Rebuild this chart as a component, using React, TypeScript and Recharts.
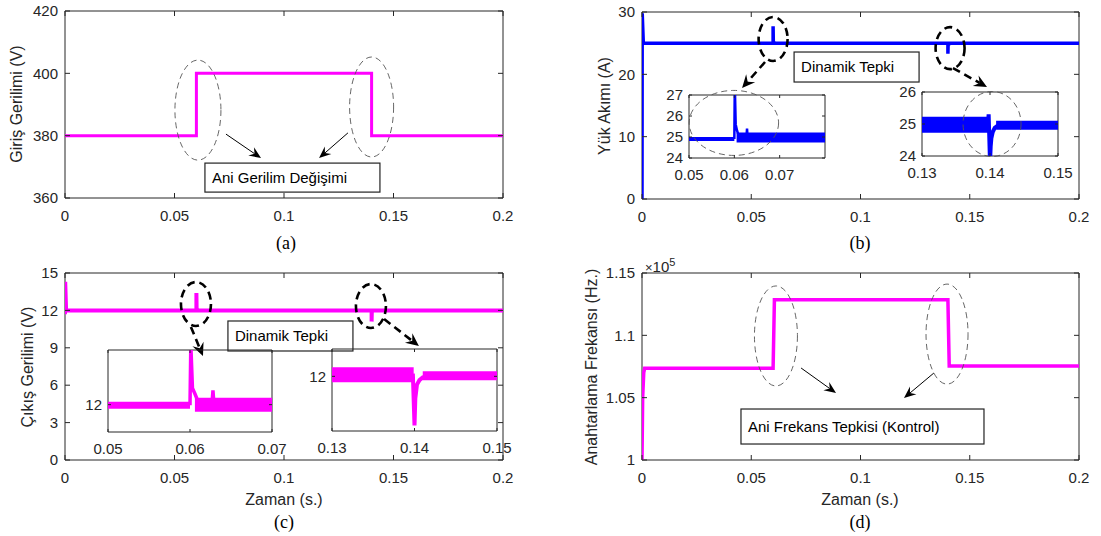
import React from "react";
import {
  LineChart,
  Line,
  XAxis,
  YAxis,
  ReferenceArea,
  ReferenceDot,
  ReferenceLine,
} from "recharts";

const FONT = '"Liberation Sans", Arial, Helvetica, sans-serif';
const SERIF = '"Liberation Serif", "Times New Roman", serif';
const AXIS = "#262626";
const MAGENTA = "#ff00ff";
const BLUE = "#0000ff";

// shared time ticks (s)
const mainTimeTicks = [0, 0.05, 0.1, 0.15, 0.2];

// (a) input voltage (V)
const timeA = [0, 0.06, 0.06, 0.14, 0.14, 0.2];
const vinA = [380, 380, 400, 400, 380, 380];
const ticksA = [360, 380, 400, 420];

// (b) load current (A)
const timeB = [0, 0.0001, 0.0006, 0.06, 0.06, 0.0601, 0.061, 0.14, 0.14, 0.1401, 0.141, 0.2];
const curB = [0, 29.8, 25, 25, 27.7, 25.2, 25, 25, 23.3, 24.7, 25, 25];
const ticksB = [0, 10, 20, 30];

// (b) inset 1: 0.05 - 0.08 s
const b1PreT = [0.05, 0.06];
const b1PreV = [24.9, 24.9];
const b1SpikeT = [0.06, 0.0601, 0.0603, 0.0606, 0.061, 0.0627, 0.0628, 0.0629];
const b1SpikeV = [24.9, 27.5, 25.6, 25.3, 25.05, 25.05, 25.4, 25.05];
const b1PostT = [0.0605, 0.08];
const b1PostV = [24.98, 24.98];
const b1TicksT = [0.05, 0.06, 0.07];
const b1TicksV = [24, 25, 26, 27];

// (b) inset 2: 0.13 - 0.15 s
const b2PreT = [0.13, 0.1399];
const b2PreV = [24.98, 24.98];
const b2DipT = [0.1397, 0.1398, 0.14, 0.1401, 0.1402, 0.1404, 0.1407, 0.141, 0.1415];
const b2DipV = [25.0, 25.3, 23.8, 24.3, 24.55, 24.75, 24.88, 24.93, 24.96];
const b2PostT = [0.1409, 0.15];
const b2PostV = [24.96, 24.96];
const b2TicksT = [0.13, 0.14, 0.15];
const b2TicksV = [24, 25, 26];

// (c) output voltage (V)
const timeC = [0, 0.0001, 0.0005, 0.06, 0.06, 0.0601, 0.061, 0.14, 0.14, 0.1401, 0.141, 0.2];
const voutC = [11.7, 14.3, 12, 12, 13.4, 12.1, 12, 12, 11.1, 11.9, 12, 12];
const ticksC = [0, 3, 6, 9, 12, 15];

// (c) inset 1: 0.05 - 0.07 s
const c1PreT = [0.05, 0.06];
const c1PreV = [11.99, 11.99];
const c1SpikeT = [0.06, 0.0601, 0.0603, 0.0606, 0.061, 0.0627, 0.0628, 0.0629];
const c1SpikeV = [11.99, 13.1, 12.3, 12.2, 12.05, 12.05, 12.26, 12.05];
const c1PostT = [0.0606, 0.07];
const c1PostV = [12.0, 12.0];
const c1TicksT = [0.05, 0.06, 0.07];

// (c) inset 2: 0.13 - 0.15 s
const c2PreT = [0.13, 0.1399];
const c2PreV = [12.03, 12.03];
const c2DipT = [0.1398, 0.14, 0.1401, 0.1403, 0.1406, 0.141, 0.1416];
const c2DipV = [12.05, 11.1, 11.6, 11.85, 11.93, 11.98, 12.0];
const c2PostT = [0.141, 0.15];
const c2PostV = [12.01, 12.01];
const c2TicksT = [0.13, 0.14, 0.15];
const insetTicks12 = [12];

// (d) switching frequency (x1e5 Hz)
const timeD = [0, 0.0003, 0.0008, 0.0012, 0.06, 0.0606, 0.14, 0.1406, 0.2];
const freqD = [1.0, 1.05, 1.07, 1.0735, 1.0735, 1.1285, 1.1285, 1.0755, 1.0755];
const ticksD = [1, 1.05, 1.1, 1.15];

type Box = { l: number; t: number; r: number; b: number };
type Series = { t: number[]; v: number[]; color: string; width: number };

const toRows = (t: number[], v: number[]) => t.map((x, i) => ({ t: x, v: v[i] }));
const fmt = (v: number) => String(Math.round(v * 10000) / 10000);

function ellipseAt(key: string, x: number, y: number, rx: number, ry: number, bold: boolean) {
  return (
    <ReferenceDot
      key={key}
      x={x}
      y={y}
      ifOverflow="visible"
      shape={(p: any) => (
        <ellipse
          cx={p.cx}
          cy={p.cy}
          rx={rx}
          ry={ry}
          fill="none"
          stroke={bold ? "#000" : "#555"}
          strokeWidth={bold ? 2.6 : 0.9}
          strokeDasharray={bold ? "8 5" : "6 4"}
        />
      )}
    />
  );
}

function arrowShape(bold: boolean) {
  return (p: any) => {
    const { x1, y1, x2, y2 } = p;
    const dx = x2 - x1;
    const dy = y2 - y1;
    const len = Math.hypot(dx, dy) || 1;
    const ux = dx / len;
    const uy = dy / len;
    const hl = bold ? 13 : 12;
    const hw = bold ? 6 : 5;
    const bx = x2 - ux * hl;
    const by = y2 - uy * hl;
    const nx = -uy;
    const ny = ux;
    const mx = x2 - ux * hl * 0.65;
    const my = y2 - uy * hl * 0.65;
    return (
      <g>
        <line
          x1={x1}
          y1={y1}
          x2={mx}
          y2={my}
          stroke="#000"
          strokeWidth={bold ? 2.6 : 1}
          strokeDasharray={bold ? "8 5" : undefined}
        />
        <polygon
          points={`${x2},${y2} ${bx + nx * hw},${by + ny * hw} ${mx},${my} ${bx - nx * hw},${by - ny * hw}`}
          fill="#000"
        />
      </g>
    );
  };
}

function arrowAt(key: string, x1: number, y1: number, x2: number, y2: number, bold: boolean) {
  return (
    <ReferenceLine
      key={key}
      segment={[
        { x: x1, y: y1 },
        { x: x2, y: y2 },
      ]}
      ifOverflow="visible"
      shape={arrowShape(bold)}
    />
  );
}

function textBoxAt(key: string, x: number, y: number, w: number, h: number, label: string) {
  return (
    <ReferenceDot
      key={key}
      x={x}
      y={y}
      ifOverflow="visible"
      shape={(p: any) => (
        <g>
          <rect x={p.cx} y={p.cy} width={w} height={h} fill="#fff" stroke="#222" strokeWidth={1.2} />
          <text x={p.cx + 7} y={p.cy + h / 2} dy="0.35em" fontSize={15} fontFamily={FONT} fill="#000">
            {label}
          </text>
        </g>
      )}
    />
  );
}

type PlotProps = {
  box: Box;
  xDomain: [number, number];
  yDomain: [number, number];
  xTicks: number[];
  yTicks: number[];
  series: Series[];
  tickLen?: number;
  xGap?: number;
  yGap?: number;
  extras?: React.ReactNode[];
};

function Plot({ box, xDomain, yDomain, xTicks, yTicks, series, tickLen = 5, xGap = 12, yGap = 7, extras = [] }: PlotProps) {
  const w = box.r - box.l;
  const h = box.b - box.t;
  const P = 45;
  // axis strips are 1px thick (zero-size axes are not drawn), so margins are 1px less there
  const plotBottom = P + h;
  const plotLeft = P;
  const xTick = (p: any) => (
    <g>
      <line x1={p.x} x2={p.x} y1={plotBottom} y2={plotBottom - tickLen} stroke={AXIS} />
      <line x1={p.x} x2={p.x} y1={P} y2={P + tickLen} stroke={AXIS} />
      <text x={p.x} y={plotBottom + xGap} dy="0.71em" textAnchor="middle" fontSize={15} fontFamily={FONT} fill={AXIS}>
        {fmt(p.payload.value)}
      </text>
    </g>
  );
  const yTick = (p: any) => (
    <g>
      <line x1={plotLeft} x2={plotLeft + tickLen} y1={p.y} y2={p.y} stroke={AXIS} />
      <line x1={plotLeft + w} x2={plotLeft + w - tickLen} y1={p.y} y2={p.y} stroke={AXIS} />
      <text x={plotLeft - yGap} y={p.y} dy="0.35em" textAnchor="end" fontSize={15} fontFamily={FONT} fill={AXIS}>
        {fmt(p.payload.value)}
      </text>
    </g>
  );
  return (
    <div style={{ position: "absolute", left: box.l - P, top: box.t - P }}>
      <LineChart width={w + 2 * P} height={h + 2 * P} margin={{ top: P, right: P, bottom: P - 1, left: P - 1 }}>
        <XAxis
          type="number"
          dataKey="t"
          domain={xDomain}
          ticks={xTicks}
          interval={0}
          allowDataOverflow
          height={1}
          tickSize={0}
          tickMargin={0}
          axisLine={false}
          tickLine={false}
          tick={xTick}
        />
        <YAxis
          type="number"
          dataKey="v"
          domain={yDomain}
          ticks={yTicks}
          interval={0}
          allowDataOverflow
          width={1}
          tickSize={0}
          tickMargin={0}
          axisLine={false}
          tickLine={false}
          tick={yTick}
        />
        <ReferenceArea
          x1={xDomain[0]}
          x2={xDomain[1]}
          y1={yDomain[0]}
          y2={yDomain[1]}
          fill="none"
          stroke={AXIS}
          strokeWidth={1}
          fillOpacity={0}
          ifOverflow="visible"
        />
        {series.map((s, i) => (
          <Line
            key={i}
            data={toRows(s.t, s.v)}
            dataKey="v"
            type="linear"
            stroke={s.color}
            strokeWidth={s.width}
            dot={false}
            activeDot={false}
            isAnimationActive={false}
          />
        ))}
        {extras}
      </LineChart>
    </div>
  );
}

const txt = (extra: React.CSSProperties): React.CSSProperties => ({
  position: "absolute",
  fontFamily: FONT,
  fontSize: 16,
  color: AXIS,
  whiteSpace: "nowrap",
  transform: "translate(-50%, -50%)",
  ...extra,
});

const vLabel = (x: number, y: number, s: string) => (
  <div style={txt({ left: x, top: y, transform: "translate(-50%, -50%) rotate(-90deg)" })}>{s}</div>
);

export default function App() {
  return (
    <div style={{ position: "absolute", left: 0, top: 0, width: 1101, height: 536, background: "#fff", overflow: "hidden" }}>
      {/* (a) */}
      <Plot
        box={{ l: 65, t: 11, r: 503, b: 198 }}
        xDomain={[0, 0.2]}
        yDomain={[360, 420]}
        xTicks={mainTimeTicks}
        yTicks={ticksA}
        series={[{ t: timeA, v: vinA, color: MAGENTA, width: 3 }]}
        extras={[
          ellipseAt("e1", 0.0607, 388.2, 23, 50, false),
          ellipseAt("e2", 0.14, 389.2, 22, 50, false),
          arrowAt("a1", 0.0735, 380.5, 0.0895, 372.8, false),
          arrowAt("a2", 0.1292, 380.9, 0.116, 372.8, false),
          textBoxAt("tb", 0.0639, 371.2, 175, 29, "Ani Gerilim Değişimi"),
        ]}
      />
      {/* (b) */}
      <Plot
        box={{ l: 642, t: 12, r: 1079, b: 199 }}
        xDomain={[0, 0.2]}
        yDomain={[0, 30]}
        xTicks={mainTimeTicks}
        yTicks={ticksB}
        series={[{ t: timeB, v: curB, color: BLUE, width: 3.5 }]}
        extras={[
          ellipseAt("e1", 0.06, 25.67, 14.5, 22, true),
          ellipseAt("e2", 0.141, 24.2, 14.5, 21, true),
          arrowAt("a1", 0.0563, 21.98, 0.0458, 17.8, true),
          arrowAt("a2", 0.1423, 21.0, 0.1579, 17.97, true),
          textBoxAt("tb", 0.0696, 23.58, 125, 30, "Dinamik Tepki"),
        ]}
      />
      {/* (c) */}
      <Plot
        box={{ l: 65, t: 273, r: 503, b: 460 }}
        xDomain={[0, 0.2]}
        yDomain={[0, 15]}
        xTicks={mainTimeTicks}
        yTicks={ticksC}
        series={[{ t: timeC, v: voutC, color: MAGENTA, width: 4 }]}
        extras={[
          ellipseAt("e1", 0.0598, 12.51, 15, 22, true),
          ellipseAt("e2", 0.1397, 12.35, 15, 22, true),
          textBoxAt("tb", 0.0744, 11.15, 125, 30, "Dinamik Tepki"),
          arrowAt("a1", 0.0575, 10.67, 0.063, 8.34, true),
          arrowAt("a2", 0.1457, 11.31, 0.1616, 9.14, true),
        ]}
      />
      {/* (d) */}
      <Plot
        box={{ l: 642, t: 273, r: 1079, b: 460 }}
        xDomain={[0, 0.2]}
        yDomain={[1, 1.15]}
        xTicks={mainTimeTicks}
        yTicks={ticksD}
        series={[{ t: timeD, v: freqD, color: MAGENTA, width: 3.5 }]}
        extras={[
          ellipseAt("e1", 0.0613, 1.0995, 21.5, 50, false),
          ellipseAt("e2", 0.1396, 1.101, 21, 50, false),
          arrowAt("a1", 0.0728, 1.0738, 0.0888, 1.0537, false),
          arrowAt("a2", 0.1336, 1.0698, 0.1199, 1.0497, false),
          textBoxAt("tb", 0.0453, 1.0409, 243, 35, "Ani Frekans Tepkisi (Kontrol)"),
        ]}
      />

      {/* insets */}
      <Plot
        box={{ l: 689, t: 95, r: 825, b: 158 }}
        xDomain={[0.05, 0.08]}
        yDomain={[24, 27]}
        xTicks={b1TicksT}
        yTicks={b1TicksV}
        tickLen={3}
        xGap={11}
        yGap={6}
        series={[
          { t: b1PreT, v: b1PreV, color: BLUE, width: 4 },
          { t: b1PostT, v: b1PostV, color: BLUE, width: 10 },
          { t: b1SpikeT, v: b1SpikeV, color: BLUE, width: 2.5 },
        ]}
        extras={[ellipseAt("e", 0.0599, 25.67, 44.7, 32.5, false)]}
      />
      <Plot
        box={{ l: 922, t: 92, r: 1058, b: 156 }}
        xDomain={[0.13, 0.15]}
        yDomain={[24, 26]}
        xTicks={b2TicksT}
        yTicks={b2TicksV}
        tickLen={3}
        xGap={11}
        yGap={6}
        series={[
          { t: b2PreT, v: b2PreV, color: BLUE, width: 16 },
          { t: b2PostT, v: b2PostV, color: BLUE, width: 9 },
          { t: b2DipT, v: b2DipV, color: BLUE, width: 4 },
        ]}
        extras={[ellipseAt("e", 0.1403, 25.0, 29, 32.5, false)]}
      />
      <Plot
        box={{ l: 108, t: 350, r: 272, b: 432 }}
        xDomain={[0.05, 0.07]}
        yDomain={[11.5, 13]}
        xTicks={c1TicksT}
        yTicks={insetTicks12}
        tickLen={3}
        xGap={11}
        yGap={6}
        series={[
          { t: c1PreT, v: c1PreV, color: MAGENTA, width: 7 },
          { t: c1PostT, v: c1PostV, color: MAGENTA, width: 14 },
          { t: c1SpikeT, v: c1SpikeV, color: MAGENTA, width: 3.5 },
        ]}
      />
      <Plot
        box={{ l: 332, t: 349, r: 497, b: 431 }}
        xDomain={[0.13, 0.15]}
        yDomain={[11, 12.5]}
        xTicks={c2TicksT}
        yTicks={insetTicks12}
        tickLen={3}
        xGap={11}
        yGap={6}
        series={[
          { t: c2PreT, v: c2PreV, color: MAGENTA, width: 15 },
          { t: c2PostT, v: c2PostV, color: MAGENTA, width: 9 },
          { t: c2DipT, v: c2DipV, color: MAGENTA, width: 4 },
        ]}
      />

      {/* axis titles */}
      {vLabel(17, 104, "Giriş Gerilimi (V)")}
      {vLabel(605, 106, "Yük Akımı (A)")}
      {vLabel(28, 367, "Çıkış Gerilimi (V)")}
      {vLabel(592, 367, "Anahtarlama Frekansı (Hz.)")}
      <div style={txt({ left: 284, top: 500 })}>Zaman (s.)</div>
      <div style={txt({ left: 860, top: 500 })}>Zaman (s.)</div>
      <div style={txt({ left: 645, top: 256, transform: "none", fontSize: 15 })}>
        <span style={{ fontSize: 13 }}>×</span>10
        <sup style={{ fontSize: 11, verticalAlign: "6px" }}>5</sup>
      </div>

      {/* panel letters */}
      <div style={txt({ left: 286, top: 243, fontFamily: SERIF, fontSize: 18, color: "#000" })}>(a)</div>
      <div style={txt({ left: 860, top: 243, fontFamily: SERIF, fontSize: 18, color: "#000" })}>(b)</div>
      <div style={txt({ left: 284, top: 522, fontFamily: SERIF, fontSize: 18, color: "#000" })}>(c)</div>
      <div style={txt({ left: 860, top: 522, fontFamily: SERIF, fontSize: 18, color: "#000" })}>(d)</div>
    </div>
  );
}
